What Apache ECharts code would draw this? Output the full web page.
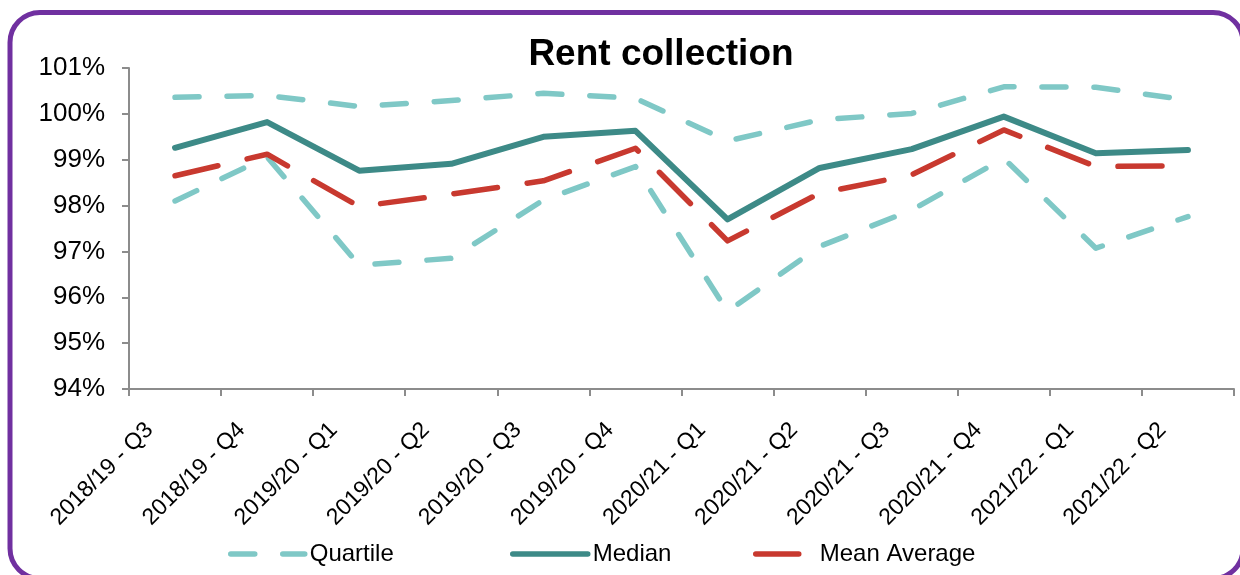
<!DOCTYPE html>
<html>
<head>
<meta charset="utf-8">
<title>Rent collection</title>
<script src="https://cdn.jsdelivr.net/npm/echarts@6/dist/echarts.min.js"></script>
<style>
  html, body { margin: 0; padding: 0; background: #ffffff; }
  #chart { width: 1240px; height: 575px; }
</style>
</head>
<body>
<div id="chart"></div>
<script>
// Quarterly rent collection rates (%)
const quarters = ['2018/19 - Q3', '2018/19 - Q4', '2019/20 - Q1', '2019/20 - Q2', '2019/20 - Q3', '2019/20 - Q4',
                  '2020/21 - Q1', '2020/21 - Q2', '2020/21 - Q3', '2020/21 - Q4', '2021/22 - Q1', '2021/22 - Q2'];
const upperQuartile = [100.36, 100.40, 100.16, 100.29, 100.45, 100.34, 99.41, 99.87, 100.01, 100.59, 100.58, 100.30];
const median        = [99.26, 99.82, 98.76, 98.91, 99.50, 99.63, 97.70, 98.82, 99.23, 99.94, 99.14, 99.21];
const meanAverage   = [98.65, 99.12, 97.98, 98.25, 98.54, 99.25, 97.23, 98.27, 98.67, 99.65, 98.85, 98.87];
const lowerQuartile = [98.10, 99.06, 96.70, 96.85, 98.12, 98.85, 95.69, 97.11, 97.90, 99.03, 97.07, 97.76];
const yTicks = { min: 94, max: 101, step: 1 };

const FONT = '"Liberation Sans", Arial, sans-serif';
const TEAL_LIGHT = '#7fc8c6';
const TEAL_DARK = '#3d8a87';
const RED = '#c8392f';
const AXIS_GREY = '#8c8c8c';

const chart = echarts.init(document.getElementById('chart'), null, { renderer: 'canvas' });

// One legend block per entry so each icon can have its own length and spacing
function legendBox(name, left, extraPad, iconWidth, lineType) {
  const lineStyle = { width: 5.5, cap: 'round' };
  if (lineType) lineStyle.type = lineType;
  return {
    data: [name],
    left: left,
    top: 542,
    itemWidth: iconWidth,
    itemHeight: 14,
    itemGap: 0,
    padding: 0,
    itemStyle: { opacity: 0 },
    lineStyle: lineStyle,
    textStyle: { fontFamily: FONT, fontSize: 24, color: '#000', padding: [0, 0, 0, extraPad] },
    selectedMode: false
  };
}

const option = {
  backgroundColor: '#ffffff',
  animation: false,
  title: {
    text: 'Rent collection',
    left: 656,
    textAlign: 'center',
    top: 31,
    textStyle: { fontFamily: FONT, fontSize: 37, fontWeight: 'bold', color: '#000' }
  },
  graphic: [{
    type: 'rect',
    silent: true,
    z: 100,
    shape: { x: 10, y: 12.5, width: 1233, height: 566, r: 30 },
    style: { fill: 'none', stroke: '#7030a0', lineWidth: 5 }
  }],
  legend: [
    legendBox('Quartile', 228, 0, 74),
    legendBox('Median', 510, 0, 75),
    legendBox('Mean Average', 753, 16, 43, 'solid')
  ],
  grid: { left: 129, right: 6, top: 68, bottom: 186, containLabel: false },
  xAxis: {
    type: 'category',
    data: quarters,
    boundaryGap: true,
    axisLine: { lineStyle: { color: AXIS_GREY, width: 2 } },
    axisTick: { show: true, length: 7, lineStyle: { color: AXIS_GREY, width: 2 } },
    axisLabel: {
      rotate: 45,
      margin: 12,
      interval: 0,
      padding: [0, 36, 0, 0],
      fontFamily: FONT,
      fontSize: 23,
      color: '#000'
    },
    splitLine: { show: false }
  },
  yAxis: {
    type: 'value',
    min: yTicks.min,
    max: yTicks.max,
    interval: yTicks.step,
    axisLine: { show: true, lineStyle: { color: AXIS_GREY, width: 2 } },
    axisTick: { show: true, length: 7, lineStyle: { color: AXIS_GREY, width: 2 } },
    axisLabel: {
      margin: 24,
      fontFamily: FONT,
      fontSize: 26,
      color: '#000',
      formatter: '{value}%'
    },
    splitLine: { show: false }
  },
  series: [
    {
      name: 'Quartile',
      type: 'line',
      data: upperQuartile,
      symbol: 'none',
      color: TEAL_LIGHT,
      lineStyle: { color: TEAL_LIGHT, width: 5.5, type: [24, 28], cap: 'round', join: 'round' },
      z: 2
    },
    {
      name: 'Quartile',
      type: 'line',
      data: lowerQuartile,
      symbol: 'none',
      color: TEAL_LIGHT,
      lineStyle: { color: TEAL_LIGHT, width: 5.5, type: [24, 28], cap: 'round', join: 'round' },
      z: 2
    },
    {
      name: 'Median',
      type: 'line',
      data: median,
      symbol: 'none',
      color: TEAL_DARK,
      lineStyle: { color: TEAL_DARK, width: 6, type: 'solid', cap: 'round', join: 'round' },
      z: 3
    },
    {
      name: 'Mean Average',
      type: 'line',
      data: meanAverage,
      symbol: 'none',
      color: RED,
      lineStyle: { color: RED, width: 5.5, type: [44, 30], cap: 'round', join: 'round' },
      z: 4
    }
  ]
};

chart.setOption(option);
</script>
</body>
</html>
